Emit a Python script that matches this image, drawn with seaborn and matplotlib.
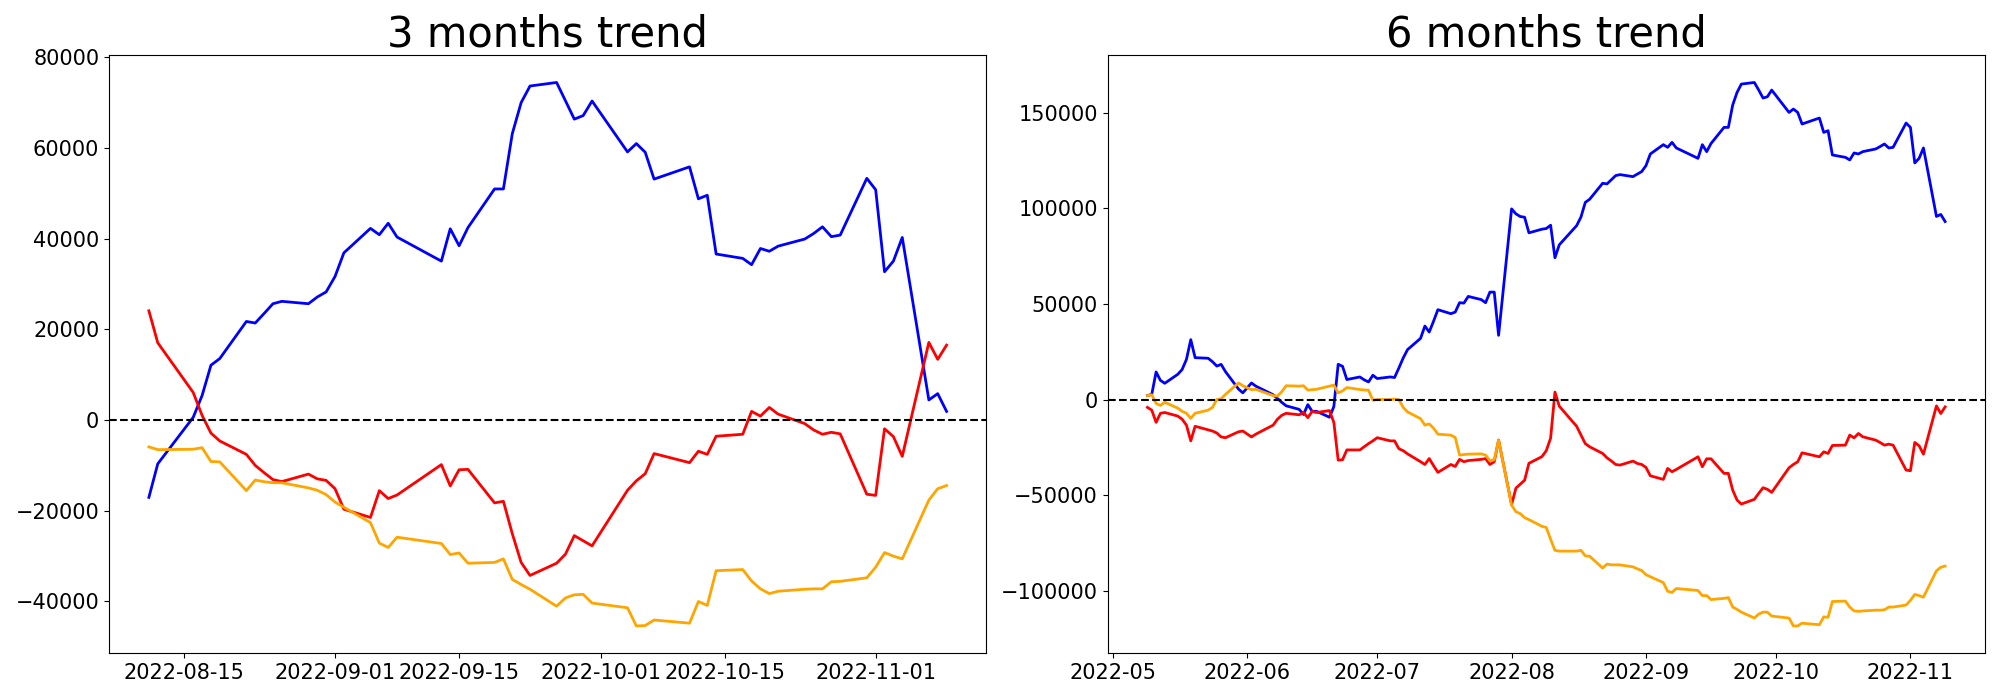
import pandas as pd
import matplotlib
matplotlib.use('Agg')
import matplotlib.pyplot as plt
import seaborn as sns

# KRX trading calendar (market closed on these weekdays)
krx_holidays = ['2022-06-01', '2022-06-06', '2022-08-15', '2022-09-09',
                '2022-09-12', '2022-10-03', '2022-10-10']

dates_3m = pd.bdate_range('2022-08-11', '2022-11-09', freq='C', holidays=krx_holidays)
dates_6m = pd.bdate_range('2022-05-09', '2022-11-09', freq='C', holidays=krx_holidays)

# 3 months trend
blue_3m = [-17044, -9652, 600, 5390, 12087, 13565, 21740, 21392, 23500, 25653,
           26175, 25653, 27130, 28260, 31653, 36870, 42262, 40870, 43393, 40348,
           35044, 42175, 38436, 42436, 50957, 50957, 63130, 70000, 73652, 74435,
           70400, 66350, 67130, 70350, 59130, 60960, 59045, 53130, 55830, 48785,
           49570, 36610, 35650, 34260, 37830, 37220, 38350, 39915, 41130, 42610,
           40435, 40785, 53300, 50785, 32700, 35045, 40260, 4435, 5826, 1913]
red_3m = [24090, 17045, 6087, 1043, -2870, -4610, -7566, -10000, -11600, -13130,
          -13565, -11913, -12957, -13304, -15130, -19652, -21478, -15565, -17304, -16522,
          -9826, -14522, -10957, -10870, -18260, -17913, -25043, -31391, -34260, -31565,
          -29565, -25478, -26609, -27739, -15478, -13391, -11826, -7391, -9391, -6870,
          -7565, -3565, -3130, 1913, 870, 2783, 1304, -783, -2174, -3130,
          -2696, -3043, -16348, -16609, -1913, -3652, -8000, 17130, 13391, 16522]
orange_3m = [-5913, -6522, -6435, -6087, -9130, -9217, -15565, -13217, -13600, -13826,
             -13826, -14957, -15478, -16435, -18087, -19217, -22609, -27130, -28087, -25826,
             -27217, -29652, -29304, -31565, -31391, -30609, -35130, -36261, -37304, -41043,
             -39217, -38522, -38435, -40348, -41391, -45391, -45304, -44087, -44783, -40000,
             -40870, -33217, -32957, -35478, -37217, -38261, -37739, -37304, -37217, -37217,
             -35652, -35565, -34783, -32435, -29217, -30000, -30609, -17652, -15130, -14435]

# 6 months trend
blue_6m = [2060, 2680, 14430, 10000, 8500, 13200, 15700, 21000, 31330, 21900,
           21600, 19800, 17500, 18400, 14600, 5500, 3500,
           8660, 7000, 2500, 500, -1500, -3300, -5150, -7830, -2680, -6180,
           -6180, -9270, -3710, 18440, 17400, 10450, 11810, 10300, 9200, 12700,
           10970, 11810, 11500, 16500, 21740, 26120, 32000, 38460, 35320, 41000,
           47020, 44930, 45770, 50680, 50470, 53970, 52300, 50680, 56220, 56220, 33600,
           99790, 97180, 95780, 95420, 87250, 89150, 89500, 91240, 74190, 80980,
           91000, 95500, 103200, 104800, 113180, 112860, 115000, 117200, 117720, 116670,
           118000, 119280,
           122420, 128520, 133400, 132000, 134600, 131670, 126240, 133400, 129740, 134000,
           142440, 142440, 154140, 160720, 165110, 165950, 162000, 157800, 158470, 161970,
           150270, 152040, 150270, 144200, 147340, 139820, 140700, 128010, 126760, 125400,
           129050, 128530, 129740, 131150, 132400, 133760, 131670, 132000, 144720,
           142440, 123830, 126240, 131670, 95830, 96870, 93160]
red_6m = [-4120, -5560, -11950, -7210, -6800, -8660, -10300, -13400, -21640, -14010,
          -15870, -16490, -17520, -19580, -19990, -16900, -16490,
          -19580, -18140, -13400, -10300, -8240, -7210, -8000, -6800, -9500, -6200,
          -6800, -5800, -12000, -31750, -31530, -26380, -26380, -24730, -23080, -21640,
          -19990, -21640, -21640, -25760, -26790, -28440, -32560, -34010, -30920, -34620,
          -38130, -34010, -35040, -31330, -32560, -31950, -31330, -30920, -34010, -32560, -21230,
          -55000, -46370, -44310, -42250, -33390, -29880, -26790, -20200, 3900, -3500,
          -14010, -18550, -23080, -24740, -28230, -30490, -32150, -33990, -34330, -32240,
          -33470, -33990,
          -35560, -39920, -41810, -36070, -37800, -36590, -29980, -35200, -31030, -31030,
          -38670, -38670, -47390, -52620, -54710, -52250, -49110, -46180, -47000, -48610,
          -35720, -33990, -32590, -27890, -29980, -27370, -28230, -24050, -23880, -18650,
          -20040, -17770, -19510, -21270, -22500, -23880, -23360, -23880, -36940,
          -37290, -22470, -24220, -28580, -3340, -7320, -3870]
orange_6m = [2060, 2470, -2060, -3090, -1440, -4530, -6180, -7210, -9890, -7210,
             -5560, -4120, 0, 410, 2680, 8660, 7210,
             5150, 5360, 2060, 1850, 4120, 7210, 7010, 7210, 4950, 5150,
             5360, 7010, 7500, 3450, 4500, 6270, 5220, 5000, 4860, -370,
             0, 0, 200, 0, -4120, -6500, -10000, -13400, -12780, -15000,
             -18140, -18650, -19860, -29100, -28800, -28580, -28440, -29100, -32000, -31500, -21270,
             -55240, -58740, -59770, -61830, -62860, -66360, -66980, -73160, -78940, -79350,
             -79350, -78940, -81820, -82030, -88210, -86150, -86500, -86560, -86560, -87590,
             -88620, -89500,
             -91710, -92740, -95840, -100370, -100990, -98930, -99960, -102640, -102640, -104700,
             -104080, -103670, -108620, -109850, -111290, -114390, -112320, -111290, -111290, -113350,
             -114390, -118510, -118510, -117070, -117890, -113770, -113980, -105730, -105520, -108620,
             -110670, -110880, -110670, -110260, -110260, -110060, -108620, -108620, -107580,
             -105110, -102020, -102640, -103460, -89650, -87800, -87180]


def draw_trend(ax, dates, blue, red, orange, title):
    df = pd.DataFrame({'date': dates, 'blue': blue, 'red': red, 'orange': orange})
    for col in ['blue', 'red', 'orange']:
        sns.lineplot(data=df, x='date', y=col, color=col, linewidth=2, ax=ax)
    ax.axhline(0, color='black', linestyle='--', linewidth=1.5)
    ax.set_title(title, fontsize=30)
    ax.set_xlabel('')
    ax.set_ylabel('')
    ax.tick_params(labelsize=15)


fig, axes = plt.subplots(1, 2, figsize=(20, 7), dpi=100)
draw_trend(axes[0], dates_3m, blue_3m, red_3m, orange_3m, '3 months trend')
draw_trend(axes[1], dates_6m, blue_6m, red_6m, orange_6m, '6 months trend')
fig.subplots_adjust(left=0.0545, right=0.9925, bottom=0.067, top=0.921, wspace=0.138)
fig.savefig('out.png', dpi=100)
